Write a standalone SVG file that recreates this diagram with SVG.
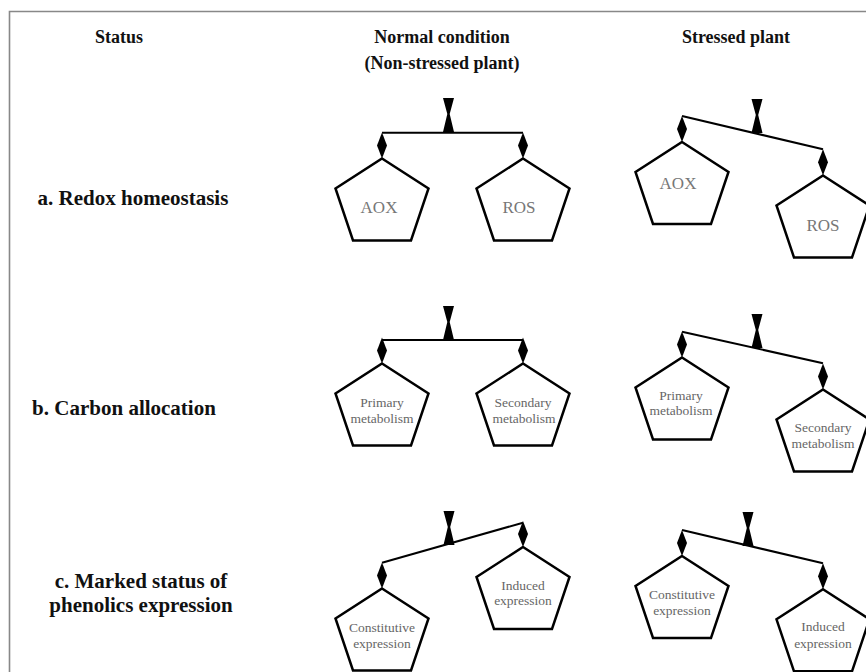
<svg xmlns="http://www.w3.org/2000/svg" xmlns:xlink="http://www.w3.org/1999/xlink" width="866" height="672" viewBox="0 0 866 672">
<style>
.hdr{font-family:"Liberation Serif","Times New Roman",serif;font-weight:bold;font-size:18px;fill:#111;text-anchor:middle}
.row{font-family:"Liberation Serif","Times New Roman",serif;font-weight:bold;font-size:21px;fill:#111;text-anchor:middle}
.big{font-family:"Liberation Serif","Times New Roman",serif;font-size:17px;fill:#777;text-anchor:middle}
.sm{font-family:"Liberation Serif","Times New Roman",serif;font-size:13.5px;fill:#666;text-anchor:middle}
.pent{fill:#fff;stroke:#000;stroke-width:2.5;stroke-linejoin:miter}
.beam{stroke:#000;stroke-width:2;fill:none}
.blk{fill:#000;stroke:none}
</style>
<defs>
<polygon id="pent" class="pent" points="0,0 46.5,30 29,82 -29,82 -46.5,30"/>
<polygon id="dia" class="blk" points="0,0 5,13 0,26 -5,13"/>
<polygon id="ful" class="blk" points="-5.5,0 5.5,0 1.2,16 5.5,34 -5.5,34 -1.2,16"/>
</defs>
<rect width="866" height="672" fill="#fff"/>
<path d="M9.5,672 V11.5 H866" fill="none" stroke="#888" stroke-width="1.6"/>

<g id="headers">
<text class="hdr" x="119" y="43">Status</text>
<text class="hdr" x="442" y="43">Normal condition</text>
<text class="hdr" x="442" y="69">(Non-stressed plant)</text>
<text class="hdr" x="736" y="43">Stressed plant</text>
</g>
<g id="rowlabels">
<text class="row" x="133" y="205">a. Redox homeostasis</text>
<text class="row" x="124" y="415">b. Carbon allocation</text>
<text class="row" x="141" y="588">c. Marked status of</text>
<text class="row" x="141" y="612">phenolics expression</text>
</g>

<g id="connectors">
<line class="beam" x1="382" y1="132.7" x2="523" y2="132.7"/>
<use xlink:href="#ful" x="448.5" y="98"/>
<use xlink:href="#dia" x="382" y="132.5"/>
<use xlink:href="#dia" x="523" y="132.5"/>

<line class="beam" x1="682" y1="116" x2="823" y2="149.3"/>
<use xlink:href="#ful" x="757" y="99"/>
<use xlink:href="#dia" x="682" y="116"/>
<use xlink:href="#dia" x="823" y="149.3"/>

<line class="beam" x1="382" y1="340" x2="523" y2="340"/>
<use xlink:href="#ful" x="448.5" y="306"/>
<use xlink:href="#dia" x="382" y="337.5"/>
<use xlink:href="#dia" x="523" y="337.5"/>

<line class="beam" x1="682" y1="331.7" x2="823" y2="363.3"/>
<use xlink:href="#ful" x="757" y="314"/>
<use xlink:href="#dia" x="682" y="331.5"/>
<use xlink:href="#dia" x="823" y="363.5"/>

<line class="beam" x1="382" y1="562.7" x2="523" y2="522.7"/>
<use xlink:href="#ful" x="449" y="511"/>
<use xlink:href="#dia" x="382" y="562.5"/>
<use xlink:href="#dia" x="523" y="521"/>

<line class="beam" x1="682" y1="530" x2="823" y2="563.3"/>
<use xlink:href="#ful" x="748" y="512"/>
<use xlink:href="#dia" x="682" y="530"/>
<use xlink:href="#dia" x="823" y="563.3"/>
</g>

<g id="a-normal-aox"><use xlink:href="#pent" x="382" y="158.5"/><text class="big" x="379" y="213">AOX</text></g>
<g id="a-normal-ros"><use xlink:href="#pent" x="523" y="158.5"/><text class="big" x="519" y="213">ROS</text></g>
<g id="a-stressed-aox"><use xlink:href="#pent" x="682" y="142"/><text class="big" x="678" y="189">AOX</text></g>
<g id="a-stressed-ros"><use xlink:href="#pent" x="823" y="175.5"/><text class="big" x="823" y="231">ROS</text></g>

<g id="b-normal-primary"><use xlink:href="#pent" x="382" y="363.5"/><text class="sm" x="382" y="407">Primary</text><text class="sm" x="382" y="423">metabolism</text></g>
<g id="b-normal-secondary"><use xlink:href="#pent" x="523" y="363.5"/><text class="sm" x="523" y="407">Secondary</text><text class="sm" x="524" y="423">metabolism</text></g>
<g id="b-stressed-primary"><use xlink:href="#pent" x="682" y="357.5"/><text class="sm" x="681" y="399.5">Primary</text><text class="sm" x="681" y="414.5">metabolism</text></g>
<g id="b-stressed-secondary"><use xlink:href="#pent" x="823" y="389.5"/><text class="sm" x="823" y="432">Secondary</text><text class="sm" x="823" y="448">metabolism</text></g>

<g id="c-normal-constitutive"><use xlink:href="#pent" x="382" y="588.5"/><text class="sm" x="382" y="632">Constitutive</text><text class="sm" x="382" y="648">expression</text></g>
<g id="c-normal-induced"><use xlink:href="#pent" x="523" y="547"/><text class="sm" x="523" y="589.5">Induced</text><text class="sm" x="523" y="605">expression</text></g>
<g id="c-stressed-constitutive"><use xlink:href="#pent" x="682" y="556"/><text class="sm" x="682" y="598.5">Constitutive</text><text class="sm" x="682" y="614.5">expression</text></g>
<g id="c-stressed-induced"><use xlink:href="#pent" x="823" y="589.3"/><text class="sm" x="823" y="631">Induced</text><text class="sm" x="823" y="647.5">expression</text></g>
</svg>
